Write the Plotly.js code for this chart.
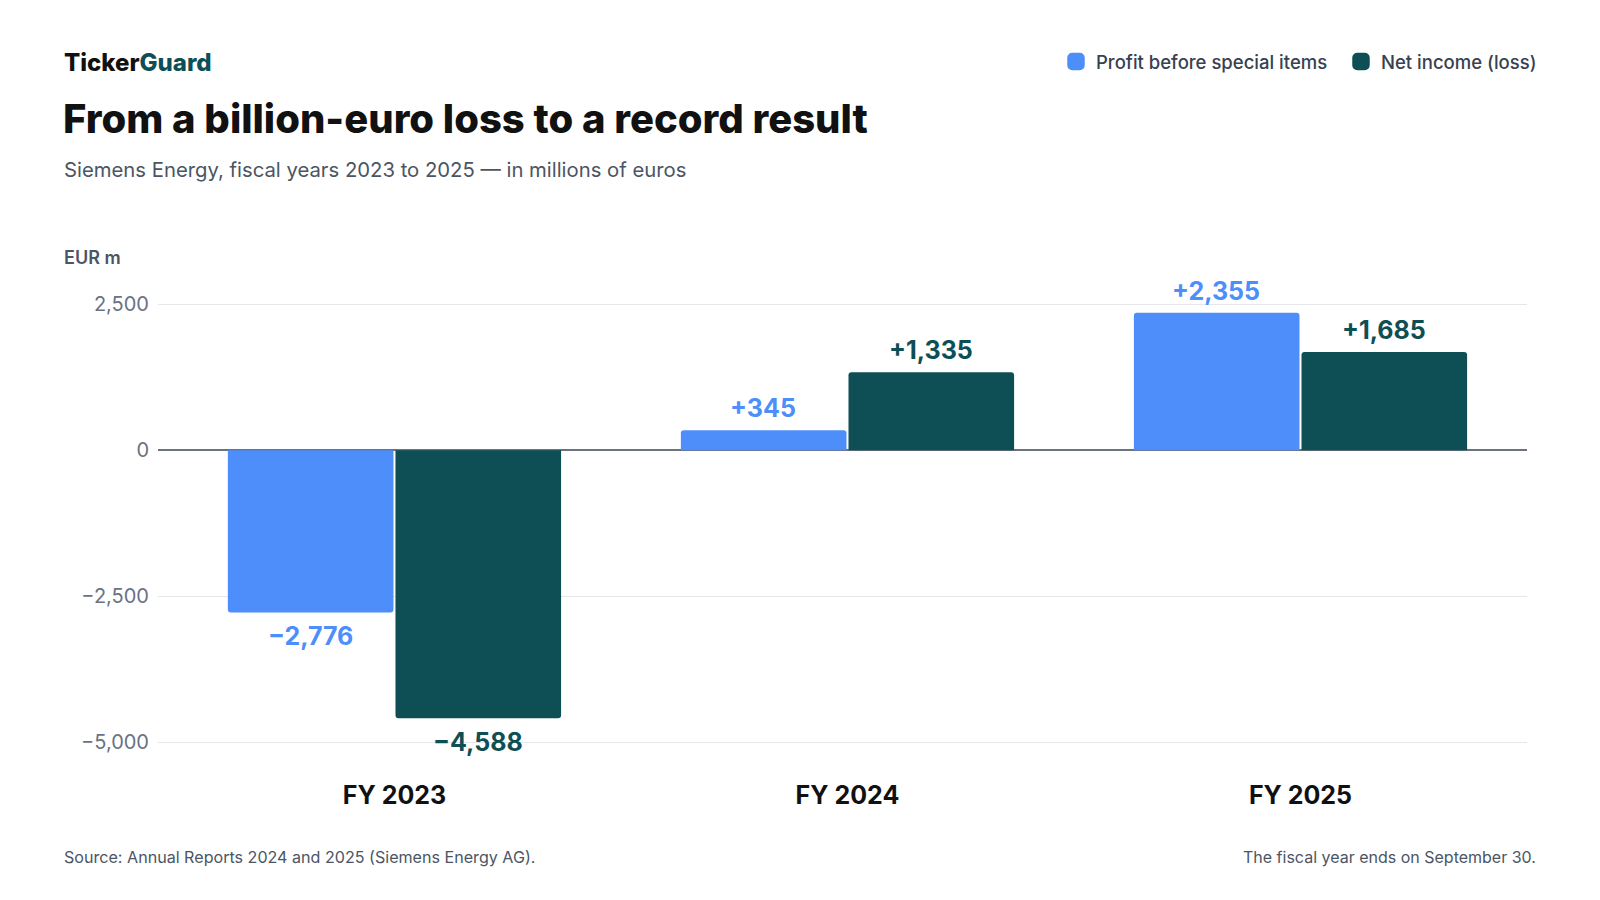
<!DOCTYPE html>
<html>
<head>
<meta charset="utf-8">
<script src="https://cdn.plot.ly/plotly-3.0.1.min.js"></script>
<style>
  html, body { margin: 0; padding: 0; background: #ffffff; }
  #chart { width: 1600px; height: 900px; }
</style>
</head>
<body>
<div id="chart"></div>
<script>
// ---- data ----
const categories = ["FY 2023", "FY 2024", "FY 2025"];
const profitBeforeSpecialItems = [-2776, 345, 2355];
const netIncome = [-4588, 1335, 1685];
const seriesNames = ["Profit before special items", "Net income (loss)"];
const yTickValues = [-5000, -2500, 0, 2500];

// ---- style ----
const BLUE = "#4D8EFA";
const TEAL = "#0E4F56";
const FONT = "Inter, 'Noto Sans', sans-serif";

const W = 1600, H = 900;
const M = { l: 158, r: 73, t: 278, b: 143 };
const plotW = W - M.l - M.r, plotH = H - M.t - M.b;
const px2x = p => (p - M.l) / plotW;
const py2y = p => (H - M.b - p) / plotH;

function fmt(v) {
  const s = Math.abs(v).toLocaleString("en-US");
  return (v < 0 ? "\u2212" : "+") + s;
}

const traces = [
  {
    type: "bar", name: seriesNames[0], x: categories, y: profitBeforeSpecialItems,
    marker: { color: BLUE, cornerradius: 3, line: { width: 0, color: BLUE } },
    legendwidth: 240,
    hoverinfo: "skip"
  },
  {
    type: "bar", name: seriesNames[1], x: categories, y: netIncome,
    marker: { color: TEAL, cornerradius: 3, line: { width: 0, color: TEAL } },
    hoverinfo: "skip"
  }
];

const annotations = [];
const series = [profitBeforeSpecialItems, netIncome];
const colors = [BLUE, TEAL];
series.forEach((vals, si) => {
  vals.forEach((v, i) => {
    annotations.push({
      x: categories[i], y: v, xref: "x", yref: "y",
      xshift: si === 0 ? -84 : 84,
      yshift: v >= 0 ? 22 : -24,
      yanchor: "middle", xanchor: "center",
      text: fmt(v), showarrow: false,
      font: { family: FONT, size: 25, color: colors[si], weight: 700 }
    });
  });
});

// header / footer texts
annotations.push(
  { xref: "paper", yref: "paper", x: px2x(62), y: py2y(62), xanchor: "left", yanchor: "middle",
    text: "Ticker<span style='color:#0E4F56'>Guard</span>", showarrow: false,
    font: { family: FONT, size: 24, color: "#111111", weight: 800 } },
  { xref: "paper", yref: "paper", x: px2x(62), y: py2y(169), xanchor: "left", yanchor: "middle",
    text: "Siemens Energy, fiscal years 2023 to 2025 \u2014 in millions of euros", showarrow: false,
    font: { family: FONT, size: 20.3, color: "#4B5563" } },
  { xref: "paper", yref: "paper", x: px2x(62), y: py2y(258), xanchor: "left", yanchor: "middle",
    text: "EUR m", showarrow: false,
    font: { family: FONT, size: 18, color: "#4B5563", weight: 600 } },
  { xref: "paper", yref: "paper", x: px2x(62), y: py2y(857), xanchor: "left", yanchor: "middle",
    text: "Source: Annual Reports 2024 and 2025 (Siemens Energy AG).", showarrow: false,
    font: { family: FONT, size: 16.1, color: "#4B5563" } },
  { xref: "paper", yref: "paper", x: px2x(1538), y: py2y(857), xanchor: "right", yanchor: "middle",
    text: "The fiscal year ends on September 30.", showarrow: false,
    font: { family: FONT, size: 16, color: "#4B5563" } }
);

const layout = {
  width: W, height: H,
  margin: M,
  paper_bgcolor: "#ffffff", plot_bgcolor: "#ffffff",
  font: { family: FONT },
  title: {
    text: "From a billion-euro loss to a record result",
    xref: "container", yref: "container",
    x: 63 / W, xanchor: "left",
    y: 1 - 119 / H, yanchor: "middle",
    font: { family: FONT, size: 40, color: "#111111", weight: 800 }
  },
  barmode: "group",
  bargap: 0.26,
  bargroupgap: 0.012,
  showlegend: true,
  legend: {
    orientation: "h",
    xref: "paper", yref: "paper",
    x: px2x(1542), xanchor: "right",
    y: py2y(62), yanchor: "middle",
    font: { family: FONT, size: 18.5, color: "#374151", weight: 500 },
    traceorder: "normal",
    bgcolor: "rgba(0,0,0,0)"
  },
  xaxis: {
    type: "category",
    range: [-0.522, 2.5],
    showgrid: false, zeroline: false, showline: false,
    ticks: "",
    tickfont: { family: FONT, size: 25, color: "#111111", weight: 700 },
    ticklabelstandoff: 21,
    fixedrange: true
  },
  yaxis: {
    range: [-5250, 2950],
    tickvals: yTickValues,
    tickformat: ",d",
    showgrid: true, gridcolor: "#E5E7EB", gridwidth: 1.5,
    zeroline: true, zerolinecolor: "#6B7280", zerolinewidth: 2,
    showline: false, ticks: "",
    tickfont: { family: FONT, size: 20, color: "#6B7280" },
    ticklabelstandoff: 8,
    fixedrange: true
  },
  annotations: annotations
};

Plotly.newPlot("chart", traces, layout, { displayModeBar: false, staticPlot: true }).then(gd => {
  // enlarge legend swatches and round their corners
  const swatchColors = [BLUE, TEAL];
  gd.querySelectorAll(".legend .legendpoints path").forEach((p, i) => {
    const t = p.getAttribute("transform") || "";
    p.setAttribute("transform", t + " scale(1.25)");
    const c = swatchColors[i] || p.style.fill;
    p.style.fill = c;
    p.style.stroke = c;
    p.style.strokeWidth = "2px";
    p.style.strokeLinejoin = "round";
  });
});
</script>
</body>
</html>
